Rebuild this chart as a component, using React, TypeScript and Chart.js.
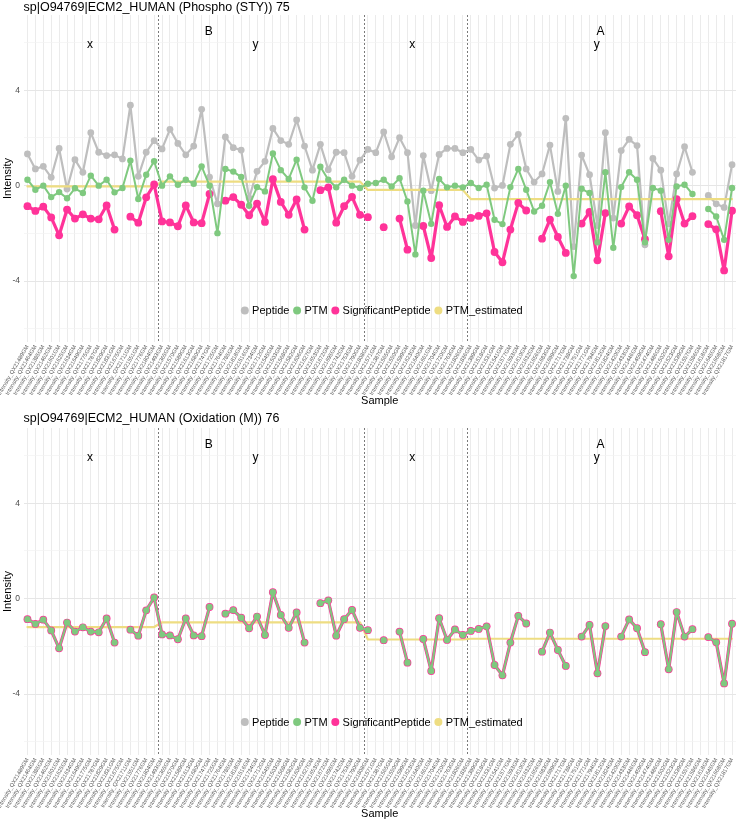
import React, { useEffect, useRef } from 'react';
import { Chart, registerables } from 'chart.js';

Chart.register(...registerables);

// ---------------- data ----------------
const sampleLabels: string[] = [
  'Intensity_QX21489GM', 'Intensity_QX21464GM', 'Intensity_QX21385GM', 'Intensity_QX21462GM', 'Intensity_QX21601GM',
  'Intensity_QX21625GM', 'Intensity_QX21634GM', 'Intensity_QX21649GM', 'Intensity_QX21775GM', 'Intensity_QX21787GM',
  'Intensity_QX21829GM', 'Intensity_QX21831GM', 'Intensity_QX21675GM', 'Intensity_QX21711GM', 'Intensity_QX21551GM',
  'Intensity_QX21776GM', 'Intensity_QX21804GM', 'Intensity_QX21493GM', 'Intensity_QX21365GM', 'Intensity_QX21570GM',
  'Intensity_QX21589GM', 'Intensity_QX21613GM', 'Intensity_QX21680GM', 'Intensity_QX21747GM', 'Intensity_QX21725GM',
  'Intensity_QX21764GM', 'Intensity_QX21785GM', 'Intensity_QX21818GM', 'Intensity_QX21516GM', 'Intensity_QX21734GM',
  'Intensity_QX21712GM', 'Intensity_QX21545GM', 'Intensity_QX21503GM', 'Intensity_QX21568GM', 'Intensity_QX21582GM',
  'Intensity_QX21606GM', 'Intensity_QX21627GM', 'Intensity_QX21653GM', 'Intensity_QX21672GM', 'Intensity_QX21695GM',
  'Intensity_QX21742GM', 'Intensity_QX21753GM', 'Intensity_QX21790GM', 'Intensity_QX21808GM', 'Intensity_QX21571GM',
  'Intensity_QX21387GM', 'Intensity_QX21565GM', 'Intensity_QX21550GM', 'Intensity_QX21599GM', 'Intensity_QX21623GM',
  'Intensity_QX21640GM', 'Intensity_QX21661GM', 'Intensity_QX21704GM', 'Intensity_QX21720GM', 'Intensity_QX21763GM',
  'Intensity_QX21806GM', 'Intensity_QX21836GM', 'Intensity_QX21399GM', 'Intensity_QX21518GM', 'Intensity_QX21531GM',
  'Intensity_QX21541GM', 'Intensity_QX21577GM', 'Intensity_QX21593GM', 'Intensity_QX21610GM', 'Intensity_QX21632GM',
  'Intensity_QX21656GM', 'Intensity_QX21683GM', 'Intensity_QX21699GM', 'Intensity_QX21717GM', 'Intensity_QX21738GM',
  'Intensity_QX21751GM', 'Intensity_QX21771GM', 'Intensity_QX21794GM', 'Intensity_QX21812GM', 'Intensity_QX21824GM',
  'Intensity_QX21420GM', 'Intensity_QX21433GM', 'Intensity_QX21446GM', 'Intensity_QX21459GM', 'Intensity_QX21474GM',
  'Intensity_QX21486GM', 'Intensity_QX21502GM', 'Intensity_QX21523GM', 'Intensity_QX21539GM', 'Intensity_QX21557GM',
  'Intensity_QX21586GM', 'Intensity_QX21618GM', 'Intensity_QX21645GM', 'Intensity_QX21668GM', 'Intensity_QX21817GM',
];

// number of samples in each condition/group block (left to right)
const groupSizes = [17, 26, 13, 34];
const boundaryPositions = [16.5, 42.5, 55.5];

const peptidePhospho: (number | null)[] = [
  1.33, 0.70, 0.81, 0.35, 1.56, -0.14, 1.09, 0.56, 2.22, 1.40, 1.26, 1.29, 1.12, 3.37, 0.39, 1.40, 1.89,
  1.54, 2.36, 1.77, 1.29, 1.66, 3.20, 0.36, -0.76, 2.04, 1.59, 1.49, -0.52, 0.60, 1.02, 2.40, 1.89, 1.73, 2.75, 1.66, 0.65, 1.73, 0.67, 1.40, 1.38, 0.39, 1.07,
  1.52, 1.38, 2.25, 1.21, 2.01, 1.38, -1.67, 1.26, -0.21, 1.31, 1.56, 1.56, 1.38,
  1.52, 1.07, 1.24, -0.10, 0.01, 1.73, 2.15, 0.70, 0.15, 0.49, 1.70, -0.24, 2.82, -2.55, 1.28, 0.46, -1.67, 2.22, -1.36, 1.47, 1.94, 1.68, -2.48, 1.14, 0.65, -1.60, 0.49, 1.63, 0.56, null, -0.41, -0.76, -0.91, 0.88,
];

const ptmPhospho: (number | null)[] = [
  0.25, -0.17, 0.0, -0.48, -0.27, -0.53, -0.11, -0.31, 0.42, 0.0, 0.25, -0.28, -0.10, 1.05, -0.56, 0.46, 1.02,
  0.0, 0.39, 0.04, 0.25, 0.08, 0.81, 0.0, -1.99, 0.70, 0.59, 0.36, -0.84, -0.06, -0.24, 1.35, 0.65, 0.28, 1.09, -0.07, -0.63, 0.79, 0.25, -0.07, 0.25, 0.0, -0.10,
  0.08, 0.11, 0.25, -0.03, 0.31, -0.66, -2.88, -0.21, -1.60, 0.28, -0.07, 0.0, -0.07,
  0.11, -0.10, 0.04, -1.43, -1.61, -0.06, 0.70, -0.17, -1.08, -0.84, 0.15, -1.18, 0.0, -3.79, -0.13, -0.31, -2.37, 0.56, -2.60, -0.06, 0.56, 0.25, -2.37, -0.10, -0.21, -2.27, -0.03, 0.04, -0.35, null, -0.98, -1.29, -2.27, -0.10,
];

const significantPeptide: (number | null)[] = [
  -0.86, -1.06, -0.88, -1.33, -2.08, -1.0, -1.38, -1.2, -1.38, -1.41, -0.83, -1.84, null, -1.3, -1.55, -0.49, 0.05,
  -1.5, -1.54, -1.7, -0.83, -1.54, -1.57, -0.35, null, -0.63, -0.48, -0.8, -1.24, -0.75, -1.52, 0.27, -0.68, -1.22, -0.58, -1.84, null, -0.19, -0.07, -1.55, -0.86, -0.47, -1.22,
  -1.32, null, -1.74, null, -1.38, -2.68, null, -1.69, -3.03, -0.82, -1.73, -1.29, -1.52,
  -1.35, -1.27, -1.16, -2.78, -3.21, -1.84, -0.72, -1.04, null, -2.22, -1.42, -2.15, -2.82, null, -1.59, -1.1, -3.13, -1.15, null, -1.59, -0.87, -1.24, -2.24, null, -1.07, -2.96, -0.56, -1.59, -1.28, null, -1.61, -1.83, -3.55, -1.05,
];

// oxidation panel: PTM and peptide coincide with the significant peptide values
const peptideOxidation = significantPeptide;
const ptmOxidation = significantPeptide;

// PTM_estimated: one value per group block
const estimatedPhospho = [-0.03, 0.17, -0.18, -0.56];
const estimatedOxidation = [-1.19, -0.99, -1.71, -1.68];

// facet-like annotations: text, x position (sample index), y value
const annotationTexts = ['x', 'B', 'y', 'x', 'A', 'y'];
const annotationIndex = [7.9, 22.9, 28.8, 48.6, 72.4, 71.9];
const annotationValue = [5.9, 6.45, 5.9, 5.9, 6.45, 5.9];

const yMin = -6.55;
const yMax = 7.15;
const majorTicks = [-4, 0, 4];

const GRAY = '#bebebe';
const GREEN = '#7fc97f';
const PINK = '#ff3399';
const YELLOW = '#eedd82';
const FONT = '"Liberation Sans", Arial, Helvetica, sans-serif';

function expandByGroup(values: number[]): number[] {
  const out: number[] = [];
  groupSizes.forEach((n, g) => {
    for (let k = 0; k < n; k++) out.push(values[g]);
  });
  return out;
}

type PanelProps = {
  title: string;
  peptide: (number | null)[];
  ptm: (number | null)[];
  significant: (number | null)[];
  estimated: number[];
  height: number;
  titlePad: { top: number; bottom: number };
  xAxisHeight: number;
  xTitlePadBottom: number;
  legendOffset: number;
};

function PTMPanel(props: PanelProps) {
  const ref = useRef<HTMLCanvasElement | null>(null);

  useEffect(() => {
    const canvas = ref.current;
    if (!canvas) return;

    const overlay = {
      id: 'overlay',
      beforeDatasetsDraw(chart: any) {
        const { ctx, chartArea, scales } = chart;
        const xs = scales.x;
        ctx.save();
        ctx.strokeStyle = '#7a7a7a';
        ctx.lineWidth = 1;
        ctx.setLineDash([2, 2]);
        boundaryPositions.forEach((p) => {
          const x = Math.round(xs.getPixelForValue(p)) + 0.5;
          ctx.beginPath();
          ctx.moveTo(x, chartArea.top);
          ctx.lineTo(x, chartArea.bottom);
          ctx.stroke();
        });
        ctx.restore();
      },
      afterDatasetsDraw(chart: any) {
        const { ctx, chartArea, scales } = chart;
        const xs = scales.x;
        const ys = scales.y;
        ctx.save();
        // annotations
        ctx.fillStyle = '#000';
        ctx.font = `12px ${FONT}`;
        ctx.textAlign = 'center';
        ctx.textBaseline = 'middle';
        annotationTexts.forEach((t, i) => {
          ctx.fillText(t, xs.getPixelForValue(annotationIndex[i]), ys.getPixelForValue(annotationValue[i]));
        });
        // legend
        const items = chart.data.datasets.map((d: any) => ({ label: d.label, color: d.legendColor }));
        ctx.font = `11px ${FONT}`;
        const r = 4;
        const gapText = 3.3;
        const gapItem = 3.7;
        const widths = items.map((it: any) => 2 * r + gapText + ctx.measureText(it.label).width);
        const total = widths.reduce((a: number, b: number) => a + b, 0) + gapItem * (items.length - 1);
        let x = (chartArea.left + chartArea.right) / 2 + 2 - total / 2;
        const y = chartArea.bottom - props.legendOffset;
        ctx.textAlign = 'left';
        ctx.textBaseline = 'middle';
        items.forEach((it: any, i: number) => {
          ctx.fillStyle = it.color;
          ctx.beginPath();
          ctx.arc(x + r, y, r, 0, Math.PI * 2);
          ctx.fill();
          ctx.fillStyle = '#000';
          ctx.fillText(it.label, x + 2 * r + gapText, y + 0.5);
          x += widths[i] + gapItem;
        });
        ctx.restore();
      },
    };

    const lineCommon = {
      borderJoinStyle: 'round',
      borderCapStyle: 'round',
      pointBorderWidth: 0,
    };

    const chart = new Chart(canvas, {
      type: 'line',
      data: {
        labels: sampleLabels,
        datasets: [
          {
            ...lineCommon,
            label: 'Peptide',
            legendColor: GRAY,
            data: props.peptide,
            borderColor: GRAY,
            backgroundColor: GRAY,
            borderWidth: 2.2,
            pointRadius: 3.4,
            pointBackgroundColor: GRAY,
            order: 3,
          },
          {
            ...lineCommon,
            label: 'PTM',
            legendColor: GREEN,
            data: props.ptm,
            borderColor: GREEN,
            backgroundColor: GREEN,
            borderWidth: 2.0,
            pointRadius: 3.2,
            pointBackgroundColor: GREEN,
            order: 0,
          },
          {
            ...lineCommon,
            label: 'SignificantPeptide',
            legendColor: PINK,
            data: props.significant,
            borderColor: PINK,
            backgroundColor: PINK,
            borderWidth: 3.2,
            pointRadius: 3.9,
            pointBackgroundColor: PINK,
            order: 1,
          },
          {
            ...lineCommon,
            label: 'PTM_estimated',
            legendColor: YELLOW,
            data: expandByGroup(props.estimated),
            borderColor: YELLOW,
            backgroundColor: YELLOW,
            borderWidth: 2.2,
            pointRadius: 0,
            order: 2,
          },
        ] as any,
      },
      options: {
        responsive: false,
        animation: false,
        events: [],
        layout: { padding: { left: 0, right: 2, top: 0, bottom: 0 } },
        elements: { line: { tension: 0 } },
        plugins: {
          legend: { display: false },
          tooltip: { enabled: false },
          title: {
            display: true,
            text: props.title,
            align: 'start',
            fullSize: false,
            color: '#000',
            font: { family: FONT, size: 12.5, weight: 'normal', lineHeight: 1.2 },
            padding: props.titlePad,
          },
        },
        scales: {
          x: {
            type: 'category',
            offset: true,
            grid: { color: '#ebebeb', lineWidth: 1, offset: false, drawTicks: false },
            border: { display: false },
            ticks: {
              autoSkip: false,
              maxRotation: 60,
              minRotation: 60,
              padding: 2,
              color: '#5a5a5a',
              font: { family: FONT, size: 5.6 },
            },
            title: {
              display: true,
              text: 'Sample',
              color: '#000',
              font: { family: FONT, size: 11 },
              padding: { top: 0, bottom: props.xTitlePadBottom },
            },
            afterFit: (s: any) => {
              s.height = props.xAxisHeight;
              s.paddingLeft = 0;
              s.paddingRight = 0;
            },
          },
          y: {
            type: 'linear',
            min: yMin,
            max: yMax,
            grid: {
              drawTicks: false,
              color: (c: any) => (majorTicks.includes(c.tick?.value) ? '#e6e6e6' : '#f2f2f2'),
              lineWidth: (c: any) => (majorTicks.includes(c.tick?.value) ? 1 : 0.7),
            },
            border: { display: false },
            ticks: {
              stepSize: 2,
              includeBounds: false,
              padding: 3.5,
              color: '#4d4d4d',
              font: { family: FONT, size: 8.5 },
              callback: (v: any) => (majorTicks.includes(Number(v)) ? String(v) : ''),
            },
            title: {
              display: true,
              text: 'Intensity',
              color: '#000',
              font: { family: FONT, size: 11, lineHeight: 1.2 },
              padding: { top: 1, bottom: 0 },
            },
            afterFit: (s: any) => {
              s.width = 23.5;
              s.paddingTop = 0;
              s.paddingBottom = 0;
            },
          },
        },
      } as any,
      plugins: [overlay],
    });

    return () => chart.destroy();
  }, []);

  return (
    <div style={{ width: 740, height: props.height }}>
      <canvas ref={ref} width={740} height={props.height} style={{ display: 'block' }} />
    </div>
  );
}

export default function App() {
  return (
    <div style={{ position: 'absolute', left: 0, top: 0, width: 740, height: 821, background: '#fff' }}>
      <PTMPanel
        title="sp|O94769|ECM2_HUMAN (Phospho (STY)) 75"
        peptide={peptidePhospho}
        ptm={ptmPhospho}
        significant={significantPeptide}
        estimated={estimatedPhospho}
        height={410}
        titlePad={{ top: 0, bottom: 0 }}
        xAxisHeight={68}
        xTitlePadBottom={2}
        legendOffset={31.5}
      />
      <PTMPanel
        title="sp|O94769|ECM2_HUMAN (Oxidation (M)) 76"
        peptide={peptideOxidation}
        ptm={ptmOxidation}
        significant={significantPeptide}
        estimated={estimatedOxidation}
        height={411}
        titlePad={{ top: 1, bottom: 2 }}
        xAxisHeight={66}
        xTitlePadBottom={0}
        legendOffset={33}
      />
    </div>
  );
}
